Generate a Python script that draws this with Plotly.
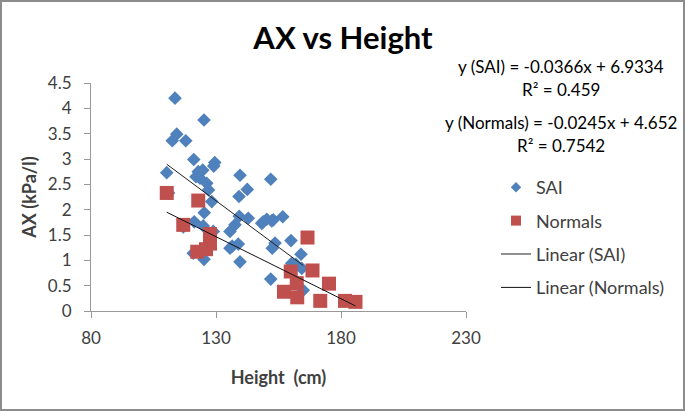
import plotly.graph_objects as go
import numpy as np

# SAI data
sai_height = [113.6, 114.3, 112.5, 117.9, 125.2, 121.1, 129.5, 129.1, 110.3, 122.9, 124.7, 123.6,
              126.3, 127.0, 128.3, 125.3, 139.6, 139.2, 142.5, 139.3, 142.9, 135.6, 137.6, 116.9,
              121.3, 124.9, 128.9, 120.9, 125.2, 135.6, 138.9, 139.6, 151.9, 151.9, 148.3, 150.3,
              152.9, 152.5, 153.6, 111.0, 148.9, 152.3, 156.7, 160.0, 164.0, 160.3, 164.3, 164.9,
              162.0, 122.0, 136.5]
sai_ax = [4.20, 3.49, 3.36, 3.36, 3.77, 2.99, 2.93, 2.86, 2.73, 2.75, 2.78, 2.62,
          2.52, 2.39, 2.16, 1.94, 2.68, 2.26, 2.40, 1.87, 1.83, 1.57, 1.70, 1.66,
          1.76, 1.68, 1.57, 1.14, 1.02, 1.24, 1.32, 0.97, 2.60, 0.63, 1.73, 1.81,
          1.80, 1.24, 1.34, 2.33, 1.76, 1.78, 1.86, 1.39, 1.12, 0.94, 0.84, 0.41,
          0.92, 2.65, 1.28]

# Normals data
nor_height = [110.3, 122.9, 116.9, 127.6, 127.6, 122.5, 126.0, 166.6, 159.9, 168.6, 175.2,
              157.2, 162.5, 162.3, 171.7, 181.6, 185.8]
nor_ax = [2.33, 2.18, 1.70, 1.52, 1.33, 1.17, 1.22, 1.45, 0.78, 0.80, 0.54,
          0.38, 0.27, 0.55, 0.20, 0.20, 0.18]

# Trendline coefficients (from chart)
sai_slope, sai_intercept, sai_r2 = -0.0366, 6.9334, 0.459
nor_slope, nor_intercept, nor_r2 = -0.0245, 4.652, 0.7542

x_ticks = [80, 130, 180, 230]
y_ticks = [0, 0.5, 1, 1.5, 2, 2.5, 3, 3.5, 4, 4.5]

FONT = "Lato, 'Open Sans', sans-serif"
TXT = "#404040"
BLUE, RED = "#4F81BD", "#C0504D"

sai_x = np.array([min(sai_height), max(sai_height)])
nor_x = np.array([min(nor_height), max(nor_height)])

fig = go.Figure()
fig.add_trace(go.Scatter(x=sai_height, y=sai_ax, mode="markers", name="SAI",
                         showlegend=False,
                         marker=dict(symbol="diamond", size=10.5, color=BLUE)))
fig.add_trace(go.Scatter(x=nor_height, y=nor_ax, mode="markers", name="Normals",
                         showlegend=False,
                         marker=dict(symbol="square", size=14, color=RED)))
fig.add_trace(go.Scatter(x=sai_x, y=sai_slope * sai_x + sai_intercept, mode="lines",
                         name="Linear (SAI)", showlegend=False,
                         line=dict(color="#222222", width=1)))
fig.add_trace(go.Scatter(x=nor_x, y=nor_slope * nor_x + nor_intercept, mode="lines",
                         name="Linear (Normals)", showlegend=False,
                         line=dict(color="#111111", width=1)))

# legend entries (smaller symbols, as in the reference legend)
fig.add_trace(go.Scatter(x=[None], y=[None], mode="markers", name="SAI", legendgroup="a",
                         marker=dict(symbol="diamond", size=8, color=BLUE)))
fig.add_trace(go.Scatter(x=[None], y=[None], mode="markers", name="Normals", legendgroup="b",
                         marker=dict(symbol="square", size=10, color=RED)))
fig.add_trace(go.Scatter(x=[None], y=[None], mode="lines", name="Linear (SAI)", legendgroup="c",
                         line=dict(color="#222222", width=1)))
fig.add_trace(go.Scatter(x=[None], y=[None], mode="lines", name="Linear (Normals)",
                         legendgroup="d", line=dict(color="#111111", width=1)))

ML, MR, MT, MB = 91, 219, 83, 100
W, H = 685, 411
pw, ph = W - ML - MR, H - MT - MB

fig.update_layout(
    width=W, height=H,
    margin=dict(l=ML, r=MR, t=MT, b=MB, autoexpand=False),
    paper_bgcolor="white", plot_bgcolor="white",
    font=dict(family=FONT, size=17, color=TXT),
    title=dict(text="<b>AX vs Height</b>", x=343 / W, xanchor="center",
               y=1 - 38 / H, yanchor="middle",
               font=dict(size=31, color="black", family=FONT)),
    xaxis=dict(range=[80, 230], tickvals=x_ticks, showgrid=False, zeroline=False,
               showline=True, linecolor="#999999", linewidth=1, automargin=False,
               ticks="outside", tickcolor="#999999", ticklen=6, ticklabelstandoff=6,
               tickfont=dict(size=17, color=TXT),
               title=dict(text="<b>Height  (cm)</b>", font=dict(size=18, color=TXT),
                          standoff=23)),
    yaxis=dict(range=[0, 4.5], tickvals=y_ticks, showgrid=False, zeroline=False,
               showline=True, linecolor="#999999", linewidth=1, automargin=False,
               ticks="outside", tickcolor="#999999", ticklen=6, ticklabelstandoff=9,
               tickfont=dict(size=17, color=TXT),
               title=dict(text="<b>AX (kPa/l)</b>", font=dict(size=18, color=TXT),
                          standoff=6)),
    legend=dict(x=(496 - ML) / pw, xanchor="left", y=1 - (169 - MT) / ph, yanchor="top",
                font=dict(size=18, color=TXT), tracegroupgap=7,
                bgcolor="rgba(0,0,0,0)"),
    showlegend=True,
)

ann = [
    (f"y (SAI) = {sai_slope}x + {sai_intercept}", 66),
    (f"R² = {sai_r2}", 89),
    (f"y (Normals) = {nor_slope}x + {nor_intercept}", 122),
    (f"R² = {nor_r2}", 145),
]
for text, py in ann:
    fig.add_annotation(text=text, xref="paper", yref="paper",
                       x=(561 - ML) / pw, y=1 - (py - MT) / ph,
                       xanchor="center", yanchor="middle", showarrow=False,
                       font=dict(size=17, color="black"))

# outer chart border
fig.add_shape(type="rect", xref="paper", yref="paper",
              x0=(1 - ML) / pw, x1=(W - 1 - ML) / pw,
              y0=1 - (H - 1 - MT) / ph, y1=1 - (1 - MT) / ph,
              line=dict(color="#8c8c8c", width=2), layer="below")

fig.write_html("out.html", config={"displayModeBar": False},
               post_script="document.body.style.margin='0';")
